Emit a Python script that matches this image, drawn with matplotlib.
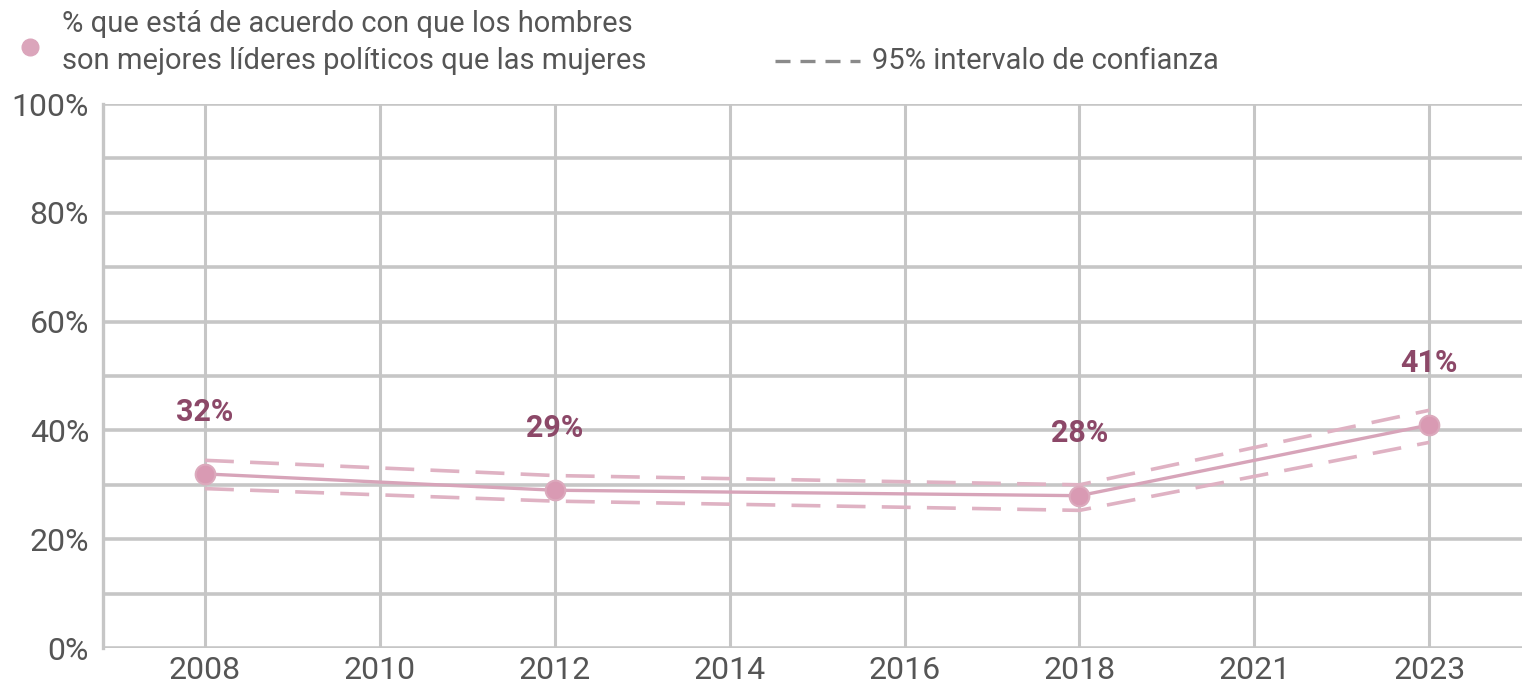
import matplotlib
matplotlib.use("Agg")
import matplotlib.pyplot as plt
from matplotlib.lines import Line2D
from matplotlib.ticker import MultipleLocator, FuncFormatter

plt.rcParams["font.family"] = ["Roboto", "DejaVu Sans"]

# ── data ──────────────────────────────────────────────
years = ["2008", "2010", "2012", "2014", "2016", "2018", "2021", "2023"]
obs_years = ["2008", "2012", "2018", "2023"]
values = [32, 29, 28, 41]
ci_upper = [34.5, 31.7, 30.0, 43.7]
ci_lower = [29.3, 27.0, 25.3, 37.8]
labels = ["32%", "29%", "28%", "41%"]

LINE = "#d7a4b9"
DASH = "#dfb2c3"
LABEL = "#8c4868"
GRID = "#c6c6c6"
TEXT = "#555555"

W, H = 1522, 685
fig = plt.figure(figsize=(W / 100, H / 100), dpi=100)
ax = fig.add_axes([103 / W, (H - 648) / H, 1 - 103 / W, (648 - 104) / H])

xpos = [years.index(y) for y in obs_years]

ax.plot(xpos, ci_upper, color=DASH, lw=2.6, dashes=(8, 4.5), zorder=3)
ax.plot(xpos, ci_lower, color=DASH, lw=2.6, dashes=(8, 4.5), zorder=3)
ax.plot(xpos, values, color=LINE, lw=2.4, zorder=4)
ax.scatter(xpos, values, s=200, color="#d99ab3", edgecolor="#dcaabd",
           linewidth=1.5, zorder=5)

for x, v, t in zip(xpos, values, labels):
    ax.annotate(t, (x, v), xytext=(0, 34), textcoords="offset points",
                ha="center", va="bottom", fontsize=22, fontweight="bold",
                color=LABEL)

ax.set_xlim(-0.583, 7.53)
ax.set_ylim(0, 100)
ax.set_xticks(range(len(years)))
ax.set_xticklabels(years)
ax.yaxis.set_major_locator(MultipleLocator(20))
ax.yaxis.set_minor_locator(MultipleLocator(10))
ax.yaxis.set_major_formatter(FuncFormatter(lambda v, _: f"{v:.0f}%"))

ax.grid(True, which="both", axis="y", color=GRID, lw=2.6, zorder=1)
ax.grid(True, which="major", axis="x", color=GRID, lw=2.2, zorder=1)
ax.set_axisbelow(True)
for s in ["top", "right", "bottom"]:
    ax.spines[s].set_visible(False)
ax.spines["left"].set_color(GRID)
ax.spines["left"].set_linewidth(2.4)
ax.tick_params(which="both", length=0, labelsize=23, labelcolor=TEXT)
ax.tick_params(axis="y", pad=10)
ax.tick_params(axis="x", pad=6)

# ── legend ────────────────────────────────────────────
fig.add_artist(Line2D([30 / W], [1 - 47 / H], marker="o", markersize=12,
                      color="#dba5bb", linestyle="none",
                      transform=fig.transFigure))
fig.text(62 / W, 1 - 24 / H, "% que está de acuerdo con que los hombres",
         fontsize=21, color=TEXT, va="center", ha="left")
fig.text(62 / W, 1 - 61 / H, "son mejores líderes políticos que las mujeres",
         fontsize=21, color=TEXT, va="center", ha="left")
fig.add_artist(Line2D([775 / W, 860 / W], [1 - 61 / H, 1 - 61 / H],
                      color="#8a8a8a", lw=2.4, dashes=(4.5, 3),
                      transform=fig.transFigure))
fig.text(872 / W, 1 - 61 / H, "95% intervalo de confianza",
         fontsize=21, color=TEXT, va="center", ha="left")

fig.savefig("out.png", dpi=100)
